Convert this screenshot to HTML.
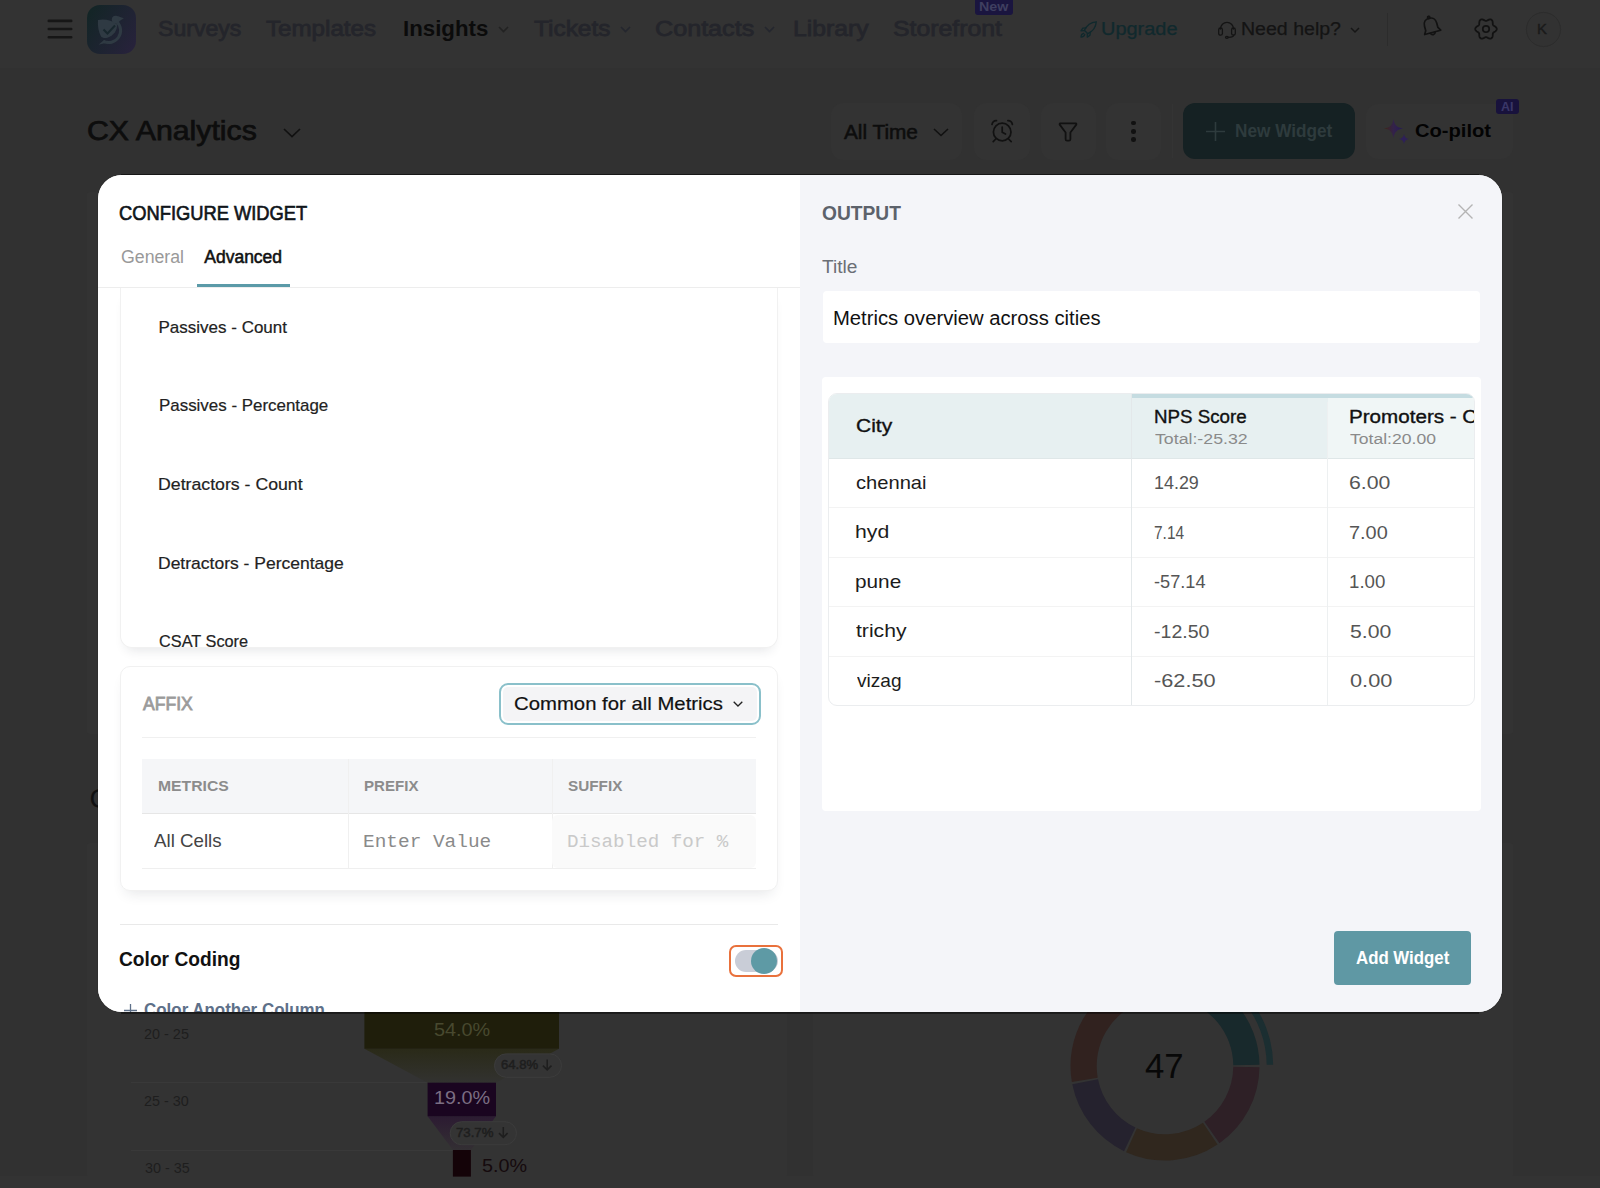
<!DOCTYPE html>
<html lang="en">
<head>
<meta charset="utf-8">
<title>CX Analytics - Configure Widget</title>
<style>
*{box-sizing:border-box;margin:0;padding:0}
html,body{width:1600px;height:1188px;overflow:hidden;background:#313131;font-family:"Liberation Sans",Arial,sans-serif}
.abs,.t{position:absolute}
.t{white-space:nowrap;line-height:1;transform-origin:0 0;display:block}
.s{font-family:"Liberation Sans",Arial,sans-serif}
.m{font-family:"Liberation Mono",monospace}
svg{position:absolute;overflow:visible}
.page{position:absolute;left:0;top:0;width:1600px;height:1188px;overflow:hidden}
header{position:absolute;left:0;top:0;width:1600px;height:68px;background:#333333}
.card{position:absolute;background:#333333;border-radius:3px}
.btn{position:absolute;background:#333333;border-radius:12px}
.modal{position:absolute;left:98px;top:175px;width:1404px;height:837px;border-radius:24px;overflow:hidden;background:#fff;box-shadow:0 0 0 1px rgba(0,0,0,.08)}
.left{position:absolute;left:0;top:0;width:702px;height:838px;background:#fff;overflow:hidden}
.right{position:absolute;left:702px;top:0;width:702px;height:838px;background:#f4f5f9;overflow:hidden}
.listcard{position:absolute;left:21.5px;top:113px;width:658px;height:359.5px;background:#fff;border:1px solid #f1f1f1;border-top:none;border-radius:0 0 12px 12px;box-shadow:0 8px 12px -6px rgba(30,40,60,.12);overflow:hidden}
.affix{position:absolute;left:21.5px;top:490.5px;width:658px;height:225px;background:#fff;border:1px solid #f1f1f1;border-radius:10px;box-shadow:0 8px 14px -6px rgba(30,40,60,.12)}
.tbl{position:absolute;left:27.5px;top:217.5px;width:647px;height:313px;border:1px solid #ebedef;border-radius:9px;background:#fff;overflow:hidden}
</style>
</head>
<body>
<div class="page">
  <header></header>
  <!-- hamburger -->
  <svg style="left:46px;top:16px" width="28" height="26" viewBox="0 0 28 26"><path d="M2.800 4.900H25.200M2.800 13H25.200M2.800 21.200H25.200" stroke="#161616" stroke-width="2.600" stroke-linecap="round" fill="none"/></svg>
  <!-- logo -->
  <svg style="left:87px;top:5px" width="49" height="49" viewBox="0 0 49 49">
    <defs><linearGradient id="lg" x1="0" y1="0.2" x2="1" y2="0.8"><stop offset="0" stop-color="#132526"/><stop offset="1" stop-color="#27223b"/></linearGradient></defs>
    <rect width="49" height="49" rx="13" fill="url(#lg)"/>
    <path d="M11 15C17 13.500 25 15 30 19.500C30.500 25 27 30 21 32.500C18 33.500 15.500 33 14 31.500C11.500 27 10.500 21 11 15Z" fill="#2f3a43"/>
    <path d="M30 17A12 12 0 0 1 16.400 36.400" fill="none" stroke="#2f3a43" stroke-width="3"/>
    <path d="M11.500 39.800L17 35L20.500 37.500Z" fill="#2f3a43"/>
    <circle cx="28.700" cy="14.600" r="3.900" fill="#2f3a43"/><path d="M31 11.300L36.800 13.300L31.500 16.800Z" fill="#2f3a43"/>
    <path d="M16.500 24.500L20.500 28.500L28 20.500" fill="none" stroke="#18272d" stroke-width="2"/>
  </svg>
  <!-- nav chevrons -->
  <svg style="left:498px;top:26px" width="11" height="7" viewBox="0 0 11 7"><path d="M1 1l4.5 4.5L10 1" fill="none" stroke="#222" stroke-width="1.6"/></svg>
  <svg style="left:620px;top:26px" width="11" height="7" viewBox="0 0 11 7"><path d="M1 1l4.5 4.5L10 1" fill="none" stroke="#24262e" stroke-width="1.6"/></svg>
  <svg style="left:764px;top:26px" width="11" height="7" viewBox="0 0 11 7"><path d="M1 1l4.5 4.5L10 1" fill="none" stroke="#24262e" stroke-width="1.6"/></svg>
  <svg style="left:1350px;top:26.5px" width="10" height="6" viewBox="0 0 10 6"><path d="M1 1l4 4l4-4" fill="none" stroke="#161616" stroke-width="1.5"/></svg>
  <!-- New badge -->
  <div class="abs" style="left:975px;top:-3px;width:37.5px;height:18px;border-radius:3px;background:#1a153f"></div>
  <!-- rocket -->
  <svg style="left:1080px;top:21px" width="17" height="17" viewBox="0 0 17 17" fill="none" stroke="#10292d" stroke-width="1.35" stroke-linecap="round" stroke-linejoin="round">
    <path d="M4.4 9.3C6.6 4.6 11.3 1.2 16.3 0.8C15.9 5.800 12.5 10.500 7.800 12.700Z"/><path d="M6 6.800L2.800 7.100L1 9.800L4.300 9.700"/><path d="M10.300 11.100L10 14.300L7.300 16.100L7.400 12.800"/><path d="M3.700 12.300C1.900 12.600 1.100 14.300 1 16.100C2.800 16 4.500 15.200 4.800 13.400"/>
  </svg>
  <!-- headset -->
  <svg style="left:1218px;top:20.600px" width="18" height="18" viewBox="0 0 18 18" fill="none" stroke="#141414" stroke-width="1.300" stroke-linecap="round">
    <path d="M2.500 8A6.500 6.700 0 0 1 15.500 8"/><rect x=".700" y="7" width="3.700" height="7.200" rx="1.800"/><rect x="13.600" y="7" width="3.700" height="7.200" rx="1.800"/><path d="M15.600 14.200C15.600 16 13 16.300 10.300 16.300"/><ellipse cx="8.900" cy="16.300" rx="1.400" ry="1"/>
  </svg>
  <div class="abs" style="left:1387px;top:12.5px;width:1px;height:33px;background:#2c2c2c"></div>
  <!-- bell -->
  <svg style="left:1418.500px;top:14.300px" width="24" height="24" viewBox="-12 -12 24 24" fill="none" stroke="#121212" stroke-width="1.700" stroke-linecap="round" stroke-linejoin="round">
    <g transform="rotate(-15)"><path d="M-8.300 6.600L-6.300 3.200V-1.500C-6.300 -5.800 -3.500 -8 0 -8C3.500 -8 6.300 -5.800 6.300 -1.500V3.200L8.300 6.600Z"/><path d="M-2.400 7a2.500 2.600 0 0 0 4.800 0"/><circle cx="0" cy="-8.800" r="1.100"/></g>
  </svg>
  <!-- gear -->
  <svg style="left:1474.250px;top:17.250px" width="24" height="24" viewBox="-12 -12 24 24" fill="none" stroke="#121212" stroke-width="1.800" stroke-linejoin="round">
    <path d="M10.75 0.00L10.70 0.47L10.54 0.92L10.28 1.35L9.95 1.75L9.55 2.12L9.13 2.45L8.69 2.74L8.27 3.01L7.88 3.26L7.54 3.52L7.27 3.78L7.06 4.07L6.91 4.40L6.82 4.77L6.77 5.19L6.74 5.66L6.72 6.16L6.68 6.68L6.61 7.22L6.49 7.74L6.31 8.23L6.07 8.66L5.75 9.03L5.38 9.31L4.94 9.50L4.47 9.58L3.97 9.58L3.45 9.49L2.94 9.33L2.45 9.13L1.97 8.90L1.53 8.67L1.11 8.46L0.73 8.29L0.36 8.19L0.00 8.15L-0.36 8.19L-0.73 8.29L-1.11 8.46L-1.53 8.67L-1.97 8.90L-2.45 9.13L-2.94 9.33L-3.45 9.49L-3.97 9.58L-4.47 9.58L-4.94 9.50L-5.37 9.31L-5.75 9.03L-6.07 8.66L-6.31 8.23L-6.49 7.74L-6.61 7.22L-6.68 6.68L-6.72 6.16L-6.74 5.66L-6.77 5.19L-6.82 4.77L-6.91 4.40L-7.06 4.08L-7.27 3.78L-7.54 3.52L-7.88 3.26L-8.27 3.01L-8.69 2.74L-9.13 2.45L-9.55 2.12L-9.95 1.75L-10.28 1.35L-10.54 0.92L-10.70 0.47L-10.75 0.00L-10.70 -0.47L-10.54 -0.92L-10.28 -1.35L-9.95 -1.75L-9.55 -2.12L-9.13 -2.45L-8.69 -2.74L-8.27 -3.01L-7.88 -3.26L-7.54 -3.52L-7.27 -3.78L-7.06 -4.08L-6.91 -4.40L-6.82 -4.77L-6.77 -5.19L-6.74 -5.66L-6.72 -6.16L-6.68 -6.68L-6.61 -7.22L-6.49 -7.74L-6.31 -8.23L-6.07 -8.66L-5.75 -9.03L-5.38 -9.31L-4.94 -9.50L-4.47 -9.58L-3.97 -9.58L-3.45 -9.49L-2.94 -9.33L-2.45 -9.13L-1.97 -8.90L-1.53 -8.67L-1.11 -8.46L-0.73 -8.29L-0.36 -8.19L-0.00 -8.15L0.36 -8.19L0.73 -8.29L1.11 -8.46L1.53 -8.67L1.97 -8.90L2.45 -9.13L2.94 -9.33L3.45 -9.49L3.97 -9.58L4.47 -9.58L4.94 -9.50L5.37 -9.31L5.75 -9.03L6.07 -8.66L6.31 -8.23L6.49 -7.74L6.61 -7.22L6.68 -6.68L6.72 -6.16L6.74 -5.66L6.77 -5.19L6.82 -4.77L6.91 -4.40L7.06 -4.07L7.27 -3.78L7.54 -3.52L7.88 -3.26L8.27 -3.01L8.69 -2.74L9.13 -2.45L9.55 -2.12L9.95 -1.75L10.28 -1.35L10.54 -0.92L10.70 -0.47Z"/><circle r="3.200"/>
  </svg>
  <!-- avatar -->
  <div class="abs" style="left:1526px;top:12.200px;width:34.500px;height:34.500px;border-radius:50%;border:1px solid #2c2c2c;background:#323232"></div>

  <!-- background widget cards -->
  <div class="card" style="left:87px;top:192px;width:700px;height:542px"></div>
  <div class="card" style="left:813px;top:192px;width:700px;height:542px"></div>
  <div class="card" style="left:87px;top:843px;width:700px;height:333.5px"></div>
  <div class="card" style="left:813px;top:843px;width:700px;height:333.5px"></div>

  <div class="abs" style="left:0;top:1176px;width:1600px;height:12px;background:#333333"></div>

  <!-- toolbar -->
  <svg style="left:282.5px;top:127.5px" width="18" height="10" viewBox="0 0 18 10"><path d="M1 1l8 7.5L17 1" fill="none" stroke="#111" stroke-width="1.7"/></svg>
  <div class="btn" style="left:831px;top:102.5px;width:131px;height:57px"></div>
  <svg style="left:932.5px;top:127.5px" width="16" height="9" viewBox="0 0 16 9"><path d="M1 1l7 6.5L15 1" fill="none" stroke="#111" stroke-width="1.6"/></svg>
  <div class="btn" style="left:973.5px;top:102.5px;width:56.5px;height:57px"></div>
  <svg style="left:990px;top:119px" width="24" height="24" viewBox="0 0 24 24" fill="none" stroke="#111" stroke-width="1.7" stroke-linecap="round">
    <circle cx="12.2" cy="13" r="8.8"/><path d="M12.2 8v5.3l3.3 1.8"/><path d="M2 5.5C2.5 3 4.5 1.5 6.5 1.6"/><path d="M22.4 5.5C21.9 3 19.9 1.5 17.9 1.6"/><path d="M5.8 20L3.2 22.6"/><path d="M18.6 20l2.6 2.6"/>
  </svg>
  <div class="btn" style="left:1041px;top:102.5px;width:54.5px;height:57px"></div>
  <svg style="left:1058px;top:122px" width="20" height="20" viewBox="0 0 20 20" fill="none" stroke="#111" stroke-width="1.8" stroke-linejoin="round">
    <path d="M2.2 1.3H17.8Q18.6 1.5 18.3 2.6L12.4 10.5V17.2Q12.3 18.6 11 18.6H9Q7.7 18.6 7.6 17.2V10.5L1.7 2.6Q1.4 1.5 2.2 1.3Z"/>
  </svg>
  <div class="btn" style="left:1106px;top:102.5px;width:54.5px;height:57px"></div>
  <div class="abs" style="left:1131.3px;top:120.6px;width:4.6px;height:4.6px;border-radius:50%;background:#111"></div>
  <div class="abs" style="left:1131.3px;top:129px;width:4.6px;height:4.6px;border-radius:50%;background:#111"></div>
  <div class="abs" style="left:1131.3px;top:137.4px;width:4.6px;height:4.6px;border-radius:50%;background:#111"></div>
  <div class="abs" style="left:1172px;top:104px;width:1px;height:54px;background:#343434"></div>
  <div class="abs" style="left:1183px;top:103px;width:172px;height:56px;border-radius:12px;background:#152123"></div>
  <svg style="left:1205.5px;top:121.5px" width="19" height="19" viewBox="0 0 19 19"><path d="M9.5 0v19M0 9.5h19" stroke="#2e3b3d" stroke-width="1.6"/></svg>
  <div class="btn" style="left:1366px;top:103.5px;width:147px;height:55px"></div>
  <svg style="left:1384px;top:118.5px" width="26" height="25" viewBox="0 0 26 25">
    <defs><linearGradient id="sg" x1="0" y1="0" x2="1" y2="0"><stop offset="0" stop-color="#3f2616"/><stop offset=".5" stop-color="#33224a"/><stop offset="1" stop-color="#251a55"/></linearGradient></defs>
    <path d="M9.5 0C10.5 6 13 8.5 19 9.5C13 10.5 10.500 13 9.500 19C8.500 13 6 10.500 0 9.500C6 8.500 8.500 6 9.500 0Z" fill="url(#sg)"/>
    <path d="M20 15C20.500 18 22 19.500 25 20C22 20.500 20.500 22 20 25C19.500 22 18 20.500 15 20C18 19.500 19.500 18 20 15Z" fill="#2e2058"/>
  </svg>
  <div class="abs" style="left:1496px;top:98.8px;width:22.5px;height:15.7px;border-radius:3px;background:#18123c"></div>

  <!-- funnel widget -->
  <div class="abs" style="left:131px;top:1082px;width:300px;height:1px;background:#393939"></div>
  <div class="abs" style="left:131px;top:1149.5px;width:325px;height:1px;background:#393939"></div>
  <svg style="left:0;top:0" width="1600" height="1188" viewBox="0 0 1600 1188">
    <defs>
      <linearGradient id="f1" x1="0" y1="0" x2="0" y2="1"><stop offset="0" stop-color="#2a2a18"/><stop offset="1" stop-color="#323230"/></linearGradient>
      <linearGradient id="f2" x1="0" y1="0" x2="0" y2="1"><stop offset="0" stop-color="#2c1b32"/><stop offset="1" stop-color="#332f33"/></linearGradient>
    </defs>
    <path d="M364.4 1048.7H559L496 1082.7H427.600Z" fill="url(#f1)"/>
    <rect x="364.4" y="1000" width="194.6" height="48.750" fill="#1f1e0b"/>
    <path d="M427.600 1116.2H496L471 1150H453Z" fill="url(#f2)"/>
    <rect x="427.600" y="1082.7" width="68.400" height="33.550" fill="#1a0520"/>
    <rect x="452.900" y="1150" width="18" height="26.600" fill="#140308"/>
    <rect x="494.500" y="1053.9" width="67" height="23.400" rx="11.700" fill="#343434" stroke="#3c3c3c"/>
    <rect x="450.200" y="1121.700" width="66.300" height="23" rx="11.500" fill="#343434" stroke="#3c3c3c"/>
    <path d="M547.200 1059.500v10M542.900 1065.600l4.300 4.300l4.300-4.300" fill="none" stroke="#1e1e1e" stroke-width="1.500"/>
    <path d="M503.300 1127v10M499 1133.100l4.300 4.300l4.300-4.300" fill="none" stroke="#1e1e1e" stroke-width="1.500"/>
    <path d="M1181.41 972.94A94.5 94.5 0 0 1 1259.49 1064.85L1233.29 1065.17A68.3 68.3 0 0 0 1176.86 998.74Z" fill="#18292c"/><path d="M1259.49 1067.15A94.5 94.5 0 0 1 1219.47 1143.22L1204.37 1121.81A68.3 68.3 0 0 0 1233.29 1066.83Z" fill="#2e2026"/><path d="M1217.57 1144.53A94.5 94.5 0 0 1 1126.11 1152.13L1136.89 1128.25A68.3 68.3 0 0 0 1202.99 1122.76Z" fill="#30271e"/><path d="M1124.02 1151.15A94.5 94.5 0 0 1 1072.30 1084.36L1098.00 1079.27A68.3 68.3 0 0 0 1135.38 1127.54Z" fill="#25222e"/><path d="M1071.88 1082.08A94.5 94.5 0 0 1 1132.68 977.20L1141.64 1001.82A68.3 68.3 0 0 0 1097.70 1077.63Z" fill="#31221f"/><path d="M1133.46 976.92A94.5 94.5 0 0 1 1179.78 972.66L1175.68 998.54A68.3 68.3 0 0 0 1142.20 1001.62Z" fill="#2a1214"/><path d="M1183.79 959.44A108.2 108.2 0 0 1 1273.19 1064.68L1266.69 1064.76A101.7 101.7 0 0 0 1182.66 965.85Z" fill="#1b2e31"/>
  </svg>
<span class="t s" style="left:158.24px;top:17.95px;font-size:22.5px;color:#24252b;-webkit-text-stroke:0.8px #24252b;transform:scaleX(1.0249);">Surveys</span>
<span class="t s" style="left:265.50px;top:18.38px;font-size:22px;color:#24252b;-webkit-text-stroke:0.8px #24252b;transform:scaleX(1.0977);">Templates</span>
<span class="t s" style="left:403.48px;top:18.38px;font-size:22px;color:#0b0b0b;font-weight:700;transform:scaleX(1.0122);">Insights</span>
<span class="t s" style="left:534.00px;top:18.38px;font-size:22px;color:#24252b;-webkit-text-stroke:0.8px #24252b;transform:scaleX(1.1095);">Tickets</span>
<span class="t s" style="left:655.14px;top:18.38px;font-size:22px;color:#24252b;-webkit-text-stroke:0.8px #24252b;transform:scaleX(1.1429);">Contacts</span>
<span class="t s" style="left:792.81px;top:18.38px;font-size:22px;color:#24252b;-webkit-text-stroke:0.8px #24252b;transform:scaleX(1.1245);">Library</span>
<span class="t s" style="left:893.44px;top:18.38px;font-size:22px;color:#24252b;-webkit-text-stroke:0.8px #24252b;transform:scaleX(1.1273);">Storefront</span>
<span class="t s" style="left:978.64px;top:0.67px;font-size:12.5px;color:#3f3f60;font-weight:700;transform:scaleX(1.1400);">New</span>
<span class="t s" style="left:1101.37px;top:19.76px;font-size:18px;color:#10292d;-webkit-text-stroke:0.25px #10292d;transform:scaleX(1.1078);">Upgrade</span>
<span class="t s" style="left:1240.64px;top:19.76px;font-size:18px;color:#141414;-webkit-text-stroke:0.25px #141414;transform:scaleX(1.0859);">Need help?</span>
<span class="t s" style="left:1537.47px;top:21.73px;font-size:14.5px;color:#1a1a1a;-webkit-text-stroke:0.4px #1a1a1a;transform:scaleX(1.0286);">K</span>
<span class="t s" style="left:86.92px;top:117.30px;font-size:28px;color:#0d0d0d;-webkit-text-stroke:0.75px #0d0d0d;transform:scaleX(1.0804);">CX Analytics</span>
<span class="t s" style="left:844.25px;top:120.97px;font-size:21px;color:#0d0d0d;-webkit-text-stroke:0.55px #0d0d0d;transform:scaleX(0.9899);">All Time</span>
<span class="t s" style="left:1234.84px;top:121.84px;font-size:18.5px;color:#2e3b3d;font-weight:700;transform:scaleX(0.9298);">New Widget</span>
<span class="t s" style="left:1415.20px;top:121.42px;font-size:19px;color:#030303;font-weight:700;transform:scaleX(1.0601);">Co-pilot</span>
<span class="t s" style="left:1500.74px;top:101.34px;font-size:12px;color:#3a3768;font-weight:700;transform:scaleX(1.0455);">AI</span>
<span class="t s" style="left:89.50px;top:785.30px;font-size:28px;color:#101010;">C</span>
<span class="t s" style="left:144.30px;top:1025.88px;font-size:15.5px;color:#1e1e1e;transform:scaleX(0.9305);">20 - 25</span>
<span class="t s" style="left:144.31px;top:1092.63px;font-size:15.5px;color:#1e1e1e;transform:scaleX(0.9255);">25 - 30</span>
<span class="t s" style="left:144.54px;top:1160.38px;font-size:15.5px;color:#1e1e1e;transform:scaleX(0.9255);">30 - 35</span>
<span class="t s" style="left:433.90px;top:1021.44px;font-size:18.5px;color:#48492f;transform:scaleX(1.0725);">54.0%</span>
<span class="t s" style="left:433.99px;top:1088.74px;font-size:18.5px;color:#7b6e83;transform:scaleX(1.0706);">19.0%</span>
<span class="t s" style="left:481.72px;top:1155.92px;font-size:19px;color:#150a0d;transform:scaleX(1.0405);">5.0%</span>
<span class="t s" style="left:500.75px;top:1058.40px;font-size:13px;color:#1e1e1e;-webkit-text-stroke:0.5px #1e1e1e;transform:scaleX(1.0083);">64.8%</span>
<span class="t s" style="left:456.09px;top:1125.90px;font-size:13px;color:#1e1e1e;-webkit-text-stroke:0.5px #1e1e1e;transform:scaleX(1.0152);">73.7%</span>
<span class="t s" style="left:1145.26px;top:1048.07px;font-size:35px;color:#080808;transform:scaleX(0.9918);">47</span>
</div>

<div class="abs" style="left:121px;top:173.700px;width:1358px;height:1.300px;background:rgba(0,0,0,.5)"></div>
<div class="abs" style="left:121px;top:1012px;width:1358px;height:2px;background:rgba(0,0,0,.42)"></div>
<div class="modal">
  <section class="left">
    <!-- tabs -->
    <div class="abs" style="left:0;top:112px;width:702px;height:1px;background:#ededed"></div>
    <div class="abs" style="left:99px;top:109.3px;width:92.500px;height:3px;background:#5b9aa8"></div>
    <div class="listcard">
<span class="t s" style="left:38.00px;top:30.61px;font-size:17px;color:#222;-webkit-text-stroke:0.2px #222;">Passives - Count</span>
<span class="t s" style="left:38.01px;top:109.11px;font-size:17px;color:#222;-webkit-text-stroke:0.2px #222;transform:scaleX(0.9952);">Passives - Percentage</span>
<span class="t s" style="left:37.95px;top:187.61px;font-size:17px;color:#222;-webkit-text-stroke:0.2px #222;transform:scaleX(1.0414);">Detractors - Count</span>
<span class="t s" style="left:37.96px;top:266.61px;font-size:17px;color:#222;-webkit-text-stroke:0.2px #222;transform:scaleX(1.0294);">Detractors - Percentage</span>
<span class="t s" style="left:38.53px;top:345.11px;font-size:17px;color:#222;-webkit-text-stroke:0.2px #222;transform:scaleX(0.9590);">CSAT Score</span>
    </div>
    <div class="affix"></div>
    <div class="abs" style="left:44px;top:561.5px;width:613.500px;height:1px;background:#f0f0f0"></div>
    <!-- dropdown -->
    <div class="abs" style="left:400.700px;top:507.500px;width:262px;height:42px;border:2.500px solid #8ac0ca;border-radius:9px;background:#fff"></div>
    <div class="abs" style="left:404.700px;top:511.500px;width:254px;height:34px;border-radius:5px;background:#f4f4f6"></div>
    <svg style="left:634.500px;top:526px" width="10" height="6" viewBox="0 0 10 6"><path d="M.7.7l4.300 4.300l4.300-4.300" fill="none" stroke="#222" stroke-width="1.300"/></svg>
    <!-- affix table -->
    <div class="abs" style="left:44px;top:584px;width:613.500px;height:54.500px;background:#f5f6f8;border-bottom:1px solid #e6e6e6"></div>
    <div class="abs" style="left:249.500px;top:584px;width:1px;height:109px;background:#f0f0f0"></div>
    <div class="abs" style="left:453.500px;top:584px;width:1px;height:109px;background:#f0f0f0"></div>
    <div class="abs" style="left:454px;top:639.500px;width:203.500px;height:53.500px;border-radius:6px;background:#fafafa"></div>
    <div class="abs" style="left:44px;top:693px;width:613.500px;height:1px;background:#efefef"></div>
    <!-- color coding -->
    <div class="abs" style="left:21.500px;top:749px;width:658.500px;height:1px;background:#e9e9e9"></div>
    <div class="abs" style="left:631.300px;top:769.500px;width:53.700px;height:32.300px;border:2.500px solid #e9713c;border-radius:7px"></div>
    <div class="abs" style="left:637px;top:775px;width:43px;height:21.500px;border-radius:11px;background:#c9cdd7"></div>
    <div class="abs" style="left:652.700px;top:772.500px;width:26.500px;height:26.500px;border-radius:50%;background:#5e9aa5"></div>
    <svg style="left:25.700px;top:829px" width="13" height="13" viewBox="0 0 13 13"><path d="M6.500 0v13M0 6.500h13" stroke="#5e7089" stroke-width="1.300"/></svg>
<span class="t s" style="left:21.31px;top:28.07px;font-size:20px;color:#10151a;-webkit-text-stroke:0.65px #10151a;transform:scaleX(0.9158);">CONFIGURE WIDGET</span>
<span class="t s" style="left:23.24px;top:73.94px;font-size:17.5px;color:#999999;transform:scaleX(1.0124);">General</span>
<span class="t s" style="left:106.25px;top:73.94px;font-size:17.5px;color:#111111;-webkit-text-stroke:0.55px #111111;">Advanced</span>
<span class="t s" style="left:44.99px;top:519.76px;font-size:18px;color:#9b9b9b;-webkit-text-stroke:0.8px #9b9b9b;transform:scaleX(0.9758);">AFFIX</span>
<span class="t s" style="left:416.20px;top:518.92px;font-size:19px;color:#111111;-webkit-text-stroke:0.2px #111111;transform:scaleX(1.0696);">Common for all Metrics</span>
<span class="t s" style="left:59.74px;top:602.88px;font-size:15.5px;color:#8c8c8c;font-weight:700;transform:scaleX(1.0147);">METRICS</span>
<span class="t s" style="left:266.03px;top:602.88px;font-size:15.5px;color:#8c8c8c;font-weight:700;transform:scaleX(0.9726);">PREFIX</span>
<span class="t s" style="left:470.26px;top:602.88px;font-size:15.5px;color:#8c8c8c;font-weight:700;transform:scaleX(0.9862);">SUFFIX</span>
<span class="t s" style="left:55.75px;top:656.42px;font-size:19px;color:#444444;transform:scaleX(0.9853);">All Cells</span>
<span class="t m" style="left:265.47px;top:657.93px;font-size:19px;color:#8a8a8a;transform:scaleX(1.0224);">Enter Value</span>
<span class="t m" style="left:469.23px;top:657.93px;font-size:19px;color:#c9c9c9;transform:scaleX(1.0111);">Disabled for %</span>
<span class="t s" style="left:21.26px;top:775.49px;font-size:19.5px;color:#111111;font-weight:700;transform:scaleX(0.9835);">Color Coding</span>
<span class="t s" style="left:45.79px;top:826.01px;font-size:18px;color:#5e7089;font-weight:700;transform:scaleX(0.9409);">Color Another Column</span>
  </section>
  <section class="right">
    <svg style="left:657.500px;top:28.700px" width="15" height="15" viewBox="0 0 15 15"><path d="M.5.5l14 14M14.500.5l-14 14" stroke="#b4b4b4" stroke-width="1.400"/></svg>
    <div class="abs" style="left:22.500px;top:116.300px;width:657.500px;height:52px;border-radius:4px;background:#fff"></div>
    <div class="abs" style="left:22px;top:202px;width:659px;height:434px;border-radius:4px;background:#fff"></div>
    <div class="tbl">
      <div class="abs" style="left:0;top:0;width:647px;height:65px;background:#e7f0f1;border-bottom:1px solid #dfe7e8"></div>
      <div class="abs" style="left:499px;top:0;width:148px;height:64px;background:#f0f6f6"></div>
      <div class="abs" style="left:303.500px;top:0;width:343.500px;height:4px;background:#c5dce1"></div>
      <div class="abs" style="left:0;top:113.250px;width:647px;height:1px;background:#f3f3f3"></div>
      <div class="abs" style="left:0;top:163.250px;width:647px;height:1px;background:#f3f3f3"></div>
      <div class="abs" style="left:0;top:212.750px;width:647px;height:1px;background:#f3f3f3"></div>
      <div class="abs" style="left:0;top:262.750px;width:647px;height:1px;background:#f3f3f3"></div>
      <div class="abs" style="left:302.600px;top:0;width:1px;height:313px;background:#e3e8ea"></div>
      <div class="abs" style="left:498px;top:8px;width:1px;height:305px;background:#edf0f1"></div>
<span class="t s" style="left:27.15px;top:23.09px;font-size:18.5px;color:#111;-webkit-text-stroke:0.35px #111;transform:scaleX(1.1360);">City</span>
<span class="t s" style="left:325.41px;top:15.19px;font-size:17.5px;color:#111;-webkit-text-stroke:0.35px #111;transform:scaleX(1.0708);">NPS Score</span>
<span class="t s" style="left:326.46px;top:37.63px;font-size:15.5px;color:#8a8a8a;transform:scaleX(1.1438);">Total:-25.32</span>
<span class="t s" style="left:520.53px;top:15.19px;font-size:17.5px;color:#111;-webkit-text-stroke:0.35px #111;transform:scaleX(1.1776);">Promoters - Count</span>
<span class="t s" style="left:521.72px;top:37.63px;font-size:15.5px;color:#8a8a8a;transform:scaleX(1.1333);">Total:20.00</span>
<span class="t s" style="left:27.18px;top:80.09px;font-size:18.5px;color:#1c1c1c;transform:scaleX(1.0876);">chennai</span>
<span class="t s" style="left:325.51px;top:80.51px;font-size:18px;color:#555;transform:scaleX(0.9942);">14.29</span>
<span class="t s" style="left:520.82px;top:80.51px;font-size:18px;color:#555;transform:scaleX(1.1805);">6.00</span>
<span class="t s" style="left:26.57px;top:129.84px;font-size:18.5px;color:#1c1c1c;transform:scaleX(1.1455);">hyd</span>
<span class="t s" style="left:325.89px;top:130.26px;font-size:18px;color:#555;transform:scaleX(0.8582);">7.14</span>
<span class="t s" style="left:520.89px;top:130.26px;font-size:18px;color:#555;transform:scaleX(1.1053);">7.00</span>
<span class="t s" style="left:26.60px;top:179.34px;font-size:18.5px;color:#1c1c1c;transform:scaleX(1.1218);">pune</span>
<span class="t s" style="left:325.99px;top:179.76px;font-size:18px;color:#555;transform:scaleX(1.0101);">-57.14</span>
<span class="t s" style="left:520.70px;top:179.76px;font-size:18px;color:#555;transform:scaleX(1.0364);">1.00</span>
<span class="t s" style="left:27.71px;top:228.59px;font-size:18.5px;color:#1c1c1c;transform:scaleX(1.1429);">trichy</span>
<span class="t s" style="left:325.94px;top:229.01px;font-size:18px;color:#555;transform:scaleX(1.0859);">-12.50</span>
<span class="t s" style="left:521.12px;top:229.01px;font-size:18px;color:#555;transform:scaleX(1.1791);">5.00</span>
<span class="t s" style="left:28.00px;top:278.09px;font-size:18.5px;color:#1c1c1c;transform:scaleX(1.0298);">vizag</span>
<span class="t s" style="left:325.84px;top:278.51px;font-size:18px;color:#555;transform:scaleX(1.2071);">-62.50</span>
<span class="t s" style="left:521.09px;top:278.51px;font-size:18px;color:#555;transform:scaleX(1.2090);">0.00</span>
    </div>
    <div class="abs" style="left:533.700px;top:755.500px;width:137px;height:54.500px;border-radius:4px;background:#5f98a4"></div>
<span class="t s" style="left:21.78px;top:28.07px;font-size:20px;color:#5c626b;font-weight:700;transform:scaleX(0.9600);">OUTPUT</span>
<span class="t s" style="left:22.47px;top:83.01px;font-size:18px;color:#6b6f76;transform:scaleX(1.0625);">Title</span>
<span class="t s" style="left:32.73px;top:133.07px;font-size:20px;color:#111;transform:scaleX(1.0114);">Metrics overview across cities</span>
<span class="t s" style="left:555.78px;top:773.51px;font-size:18px;color:#ffffff;font-weight:700;transform:scaleX(0.9343);">Add Widget</span>
  </section>
</div>
</body>
</html>
